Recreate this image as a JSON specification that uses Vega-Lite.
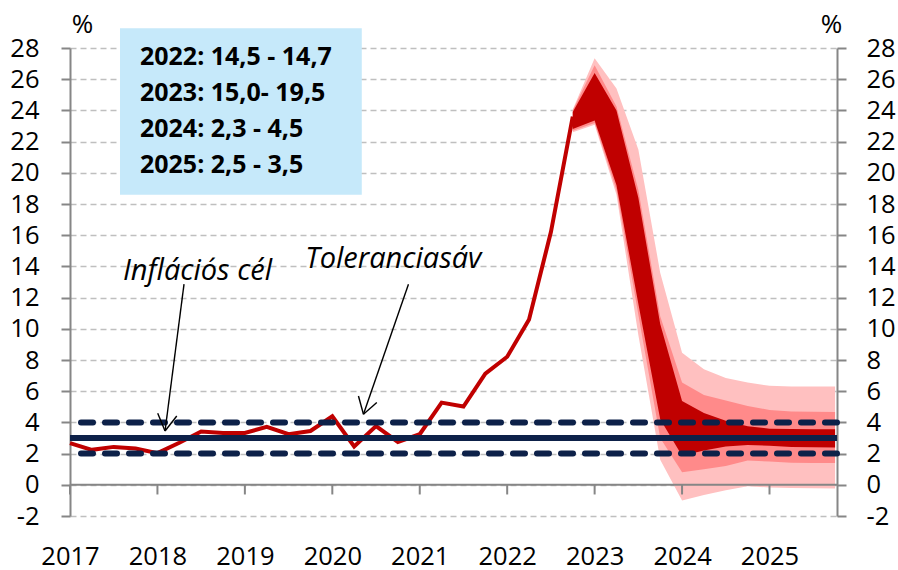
{
  "$schema": "https://vega.github.io/schema/vega-lite/v6.json",
  "width": 767,
  "height": 468,
  "autosize": {"type": "none"},
  "padding": {"left": 70, "top": 48, "right": 61, "bottom": 54},
  "background": "white",
  "config": {
    "view": {"stroke": null},
    "font": "Open Sans",
    "text": {"font": "Open Sans"},
    "axis": {"labelOverlap": false, "labelFont": "Open Sans", "labelColor": "black"}
  },
  "datasets": {
    "hist": [
      {"t": 2017.0, "v": 2.67}, {"t": 2017.25, "v": 2.24}, {"t": 2017.5, "v": 2.43}, {"t": 2017.75, "v": 2.33},
      {"t": 2018.0, "v": 2.03}, {"t": 2018.25, "v": 2.7}, {"t": 2018.5, "v": 3.42}, {"t": 2018.75, "v": 3.32},
      {"t": 2019.0, "v": 3.32}, {"t": 2019.25, "v": 3.72}, {"t": 2019.5, "v": 3.24}, {"t": 2019.75, "v": 3.45},
      {"t": 2020.0, "v": 4.39}, {"t": 2020.25, "v": 2.46}, {"t": 2020.5, "v": 3.76}, {"t": 2020.75, "v": 2.75},
      {"t": 2021.0, "v": 3.24}, {"t": 2021.25, "v": 5.27}, {"t": 2021.5, "v": 5.02}, {"t": 2021.75, "v": 7.12},
      {"t": 2022.0, "v": 8.21}, {"t": 2022.25, "v": 10.6}, {"t": 2022.5, "v": 16.2}, {"t": 2022.75, "v": 23.6}
    ],
    "fan": [
      {"t": 2022.75, "l3": 22.6, "l2": 22.7, "l1": 22.8, "u1": 23.9, "u2": 24.0, "u3": 24.05},
      {"t": 2023.0, "l3": 23.08, "l2": 23.2, "l1": 23.35, "u1": 26.4, "u2": 26.9, "u3": 27.35},
      {"t": 2023.25, "l3": 18.6, "l2": 18.9, "l1": 19.2, "u1": 24.0, "u2": 24.25, "u3": 25.4},
      {"t": 2023.5, "l3": 9.6, "l2": 10.9, "l1": 11.6, "u1": 18.4, "u2": 18.9, "u3": 21.5},
      {"t": 2023.75, "l3": 1.6, "l2": 3.0, "l1": 4.2, "u1": 10.3, "u2": 10.8, "u3": 13.6},
      {"t": 2024.0, "l3": -1.0, "l2": 0.8, "l1": 1.86, "u1": 5.37, "u2": 6.55, "u3": 8.47},
      {"t": 2024.25, "l3": -0.65, "l2": 1.0, "l1": 2.2, "u1": 4.6, "u2": 5.75, "u3": 7.4},
      {"t": 2024.5, "l3": -0.35, "l2": 1.2, "l1": 2.45, "u1": 4.1, "u2": 5.4, "u3": 6.85},
      {"t": 2024.75, "l3": -0.1, "l2": 1.55, "l1": 2.55, "u1": 3.75, "u2": 5.05, "u3": 6.55},
      {"t": 2025.0, "l3": -0.17, "l2": 1.5, "l1": 2.5, "u1": 3.6, "u2": 4.8, "u3": 6.35},
      {"t": 2025.25, "l3": -0.2, "l2": 1.42, "l1": 2.42, "u1": 3.57, "u2": 4.7, "u3": 6.3},
      {"t": 2025.5, "l3": -0.22, "l2": 1.4, "l1": 2.4, "u1": 3.56, "u2": 4.68, "u3": 6.3},
      {"t": 2025.75, "l3": -0.23, "l2": 1.39, "l1": 2.39, "u1": 3.56, "u2": 4.67, "u3": 6.3}
    ],
    "frame": [{"t": 2017, "v": -2}, {"t": 2025.772, "v": 28}],
    "years": [{"t": 2017}, {"t": 2018}, {"t": 2019}, {"t": 2020}, {"t": 2021}, {"t": 2022}, {"t": 2023}, {"t": 2024}, {"t": 2025}],
    "band": [{"v": 2}, {"v": 4}],
    "target": [{"v": 3}],
    "box": [{"x1": 2017.572, "x2": 2020.337, "y1": 18.6, "y2": 29.26}],
    "boxtext": [
      {"t": 2017.8, "v": 27.45, "label": "2022: 14,5 - 14,7"},
      {"t": 2017.8, "v": 25.1, "label": "2023: 15,0- 19,5"},
      {"t": 2017.8, "v": 22.82, "label": "2024: 2,3 - 4,5"},
      {"t": 2017.8, "v": 20.5, "label": "2025: 2,5 - 3,5"}
    ],
    "notes": [
      {"t": 2017.606, "v": 13.73, "label": "Inflációs cél"},
      {"t": 2019.69, "v": 14.5, "label": "Toleranciasáv"}
    ],
    "arrows": [
      {"x1": 2018.304, "y1": 12.86, "x2": 2018.087, "y2": 3.45},
      {"x1": 2018.003, "y1": 4.58, "x2": 2018.087, "y2": 3.45},
      {"x1": 2018.221, "y1": 4.41, "x2": 2018.087, "y2": 3.45},
      {"x1": 2020.871, "y1": 12.86, "x2": 2020.356, "y2": 4.52},
      {"x1": 2020.299, "y1": 5.69, "x2": 2020.356, "y2": 4.52},
      {"x1": 2020.509, "y1": 5.27, "x2": 2020.356, "y2": 4.52}
    ]
  },
  "layer": [
    {
      "data": {"name": "frame"},
      "mark": {"type": "point", "opacity": 0},
      "encoding": {
        "x": {"field": "t", "type": "quantitative", "scale": {"domain": [2017, 2025.772], "nice": false, "zero": false},
          "axis": {"orient": "bottom", "values": [2017, 2018, 2019, 2020, 2021, 2022, 2023, 2024, 2025], "format": "d", "domain": false, "ticks": false, "tickSize": 0, "grid": false,
            "labelFontSize": 25.5, "labelPadding": 28, "labelColor": "black", "labelFlush": false, "labelOverlap": false, "labelFont": "Open Sans", "title": null}},
        "y": {"field": "v", "type": "quantitative", "scale": {"domain": [-2, 28], "nice": false, "zero": false},
          "axis": {"orient": "left", "values": [-2, 0, 2, 4, 6, 8, 10, 12, 14, 16, 18, 20, 22, 24, 26, 28],
            "labelExpr": "replace(datum.label, '−', '-')",
            "title": "%", "titleAngle": 0, "titleX": 12, "titleY": -24, "titleAlign": "center", "titleBaseline": "middle",
            "titleFontSize": 26, "titleFontWeight": "normal", "titleColor": "black", "titleFont": "Open Sans",
            "grid": true, "gridColor": "#bfbfbf", "gridDash": [6, 4], "gridWidth": 1.5,
            "domainColor": "#868686", "domainWidth": 2, "tickColor": "#868686", "tickWidth": 2, "tickSize": 9,
            "labelFontSize": 25.5, "labelPadding": 22, "labelColor": "black", "labelFont": "Open Sans", "labelOverlap": false}}
      }
    },
    {
      "layer": [
        {
          "data": {"name": "fan"},
          "mark": {"type": "area", "color": "#ffc0c0", "opacity": 1},
          "encoding": {
            "x": {"field": "t", "type": "quantitative", "scale": {"domain": [2017, 2025.772], "nice": false, "zero": false}, "axis": null},
            "y": {"field": "l3", "type": "quantitative", "scale": {"domain": [-2, 28], "nice": false, "zero": false}, "axis": null},
            "y2": {"field": "u3"}
          }
        },
        {
          "data": {"name": "fan"},
          "mark": {"type": "area", "color": "#ff8a8a", "opacity": 1},
          "encoding": {
            "x": {"field": "t", "type": "quantitative", "axis": null},
            "y": {"field": "l2", "type": "quantitative", "axis": null},
            "y2": {"field": "u2"}
          }
        },
        {
          "data": {"name": "fan"},
          "mark": {"type": "area", "color": "#c00000", "opacity": 1},
          "encoding": {
            "x": {"field": "t", "type": "quantitative", "axis": null},
            "y": {"field": "l1", "type": "quantitative", "axis": null},
            "y2": {"field": "u1"}
          }
        },
        {
          "data": {"name": "hist"},
          "mark": {"type": "line", "color": "#c00000", "strokeWidth": 4, "strokeJoin": "miter"},
          "encoding": {
            "x": {"field": "t", "type": "quantitative", "axis": null},
            "y": {"field": "v", "type": "quantitative", "axis": null}
          }
        },
        {
          "data": {"name": "years"},
          "mark": {"type": "rule", "color": "#868686", "strokeWidth": 2},
          "encoding": {
            "x": {"field": "t", "type": "quantitative", "axis": null},
            "y": {"datum": 0, "type": "quantitative", "axis": null},
            "y2": {"datum": -0.62}
          }
        },
        {
          "data": {"values": [{"v": 0}]},
          "mark": {"type": "rule", "color": "#868686", "strokeWidth": 2},
          "encoding": {
            "y": {"field": "v", "type": "quantitative", "axis": null}
          }
        },
        {
          "data": {"name": "band"},
          "mark": {"type": "rule", "color": "#0d2149", "strokeWidth": 6, "strokeDash": [12, 12], "strokeCap": "round"},
          "encoding": {
            "y": {"field": "v", "type": "quantitative", "axis": null}
          }
        },
        {
          "data": {"name": "target"},
          "mark": {"type": "rule", "color": "#0d2149", "strokeWidth": 6},
          "encoding": {
            "y": {"field": "v", "type": "quantitative", "axis": null}
          }
        },
        {
          "data": {"name": "box"},
          "mark": {"type": "rect", "color": "#c6e9fa"},
          "encoding": {
            "x": {"field": "x1", "type": "quantitative", "axis": null},
            "x2": {"field": "x2"},
            "y": {"field": "y1", "type": "quantitative", "axis": null},
            "y2": {"field": "y2"}
          }
        },
        {
          "data": {"name": "boxtext"},
          "mark": {"type": "text", "align": "left", "baseline": "middle", "fontSize": 25, "fontWeight": "bold", "color": "black", "font": "Open Sans"},
          "encoding": {
            "x": {"field": "t", "type": "quantitative", "axis": null},
            "y": {"field": "v", "type": "quantitative", "axis": null},
            "text": {"field": "label"}
          }
        },
        {
          "data": {"name": "notes"},
          "mark": {"type": "text", "align": "left", "baseline": "middle", "fontSize": 29, "fontStyle": "italic", "color": "black", "font": "Open Sans"},
          "encoding": {
            "x": {"field": "t", "type": "quantitative", "axis": null},
            "y": {"field": "v", "type": "quantitative", "axis": null},
            "text": {"field": "label"}
          }
        },
        {
          "data": {"name": "arrows"},
          "mark": {"type": "rule", "color": "black", "strokeWidth": 1.4},
          "encoding": {
            "x": {"field": "x1", "type": "quantitative", "axis": null},
            "y": {"field": "y1", "type": "quantitative", "axis": null},
            "x2": {"field": "x2"},
            "y2": {"field": "y2"}
          }
        }
      ]
    },
    {
      "data": {"name": "frame"},
      "mark": {"type": "point", "opacity": 0},
      "encoding": {
        "y": {"field": "v", "type": "quantitative", "scale": {"domain": [-2, 28], "nice": false, "zero": false},
          "axis": {"orient": "right", "values": [-2, 0, 2, 4, 6, 8, 10, 12, 14, 16, 18, 20, 22, 24, 26, 28],
            "labelExpr": "replace(datum.label, '−', '-')",
            "title": "%", "titleAngle": 0, "titleX": -6, "titleY": -24, "titleAlign": "center", "titleBaseline": "middle",
            "titleFontSize": 26, "titleFontWeight": "normal", "titleColor": "black", "titleFont": "Open Sans",
            "grid": false, "domainColor": "#868686", "domainWidth": 2, "tickColor": "#868686", "tickWidth": 2, "tickSize": 9,
            "labelFontSize": 25.5, "labelPadding": 20, "labelColor": "black", "labelFont": "Open Sans", "labelOverlap": false}}
      }
    }
  ],
  "resolve": {"scale": {"x": "independent", "y": "independent"}}
}
